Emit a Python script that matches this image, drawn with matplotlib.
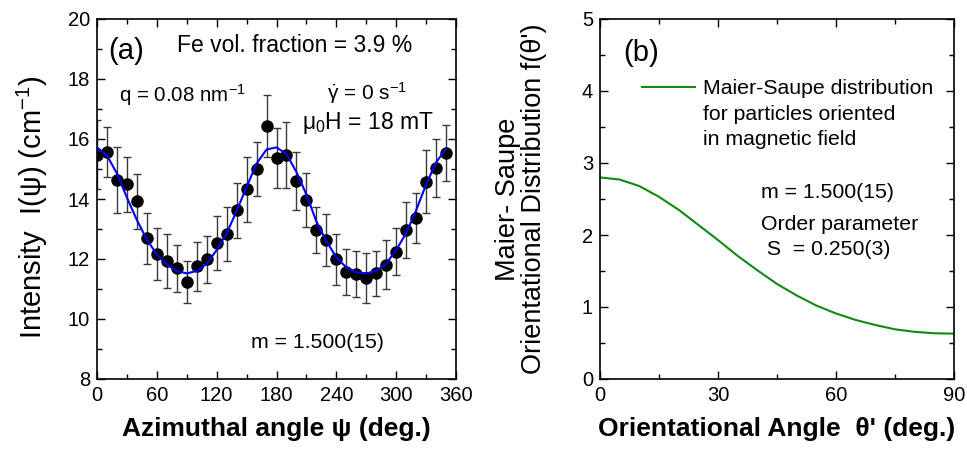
import matplotlib
matplotlib.use("Agg")
import matplotlib.pyplot as plt
from matplotlib.ticker import MultipleLocator

plt.rcParams['font.family'] = ['Liberation Sans', 'DejaVu Sans']
plt.rcParams['mathtext.fontset'] = 'custom'
plt.rcParams['mathtext.rm'] = 'Liberation Sans'
plt.rcParams['mathtext.it'] = 'Liberation Sans'
plt.rcParams['mathtext.bf'] = 'Liberation Sans:bold'

# ---------------- data panel (a) ----------------
psi = [0, 10, 20, 30, 40, 50, 60, 70, 80, 90, 100, 110, 120, 130, 140, 150, 160, 170,
       180, 190, 200, 210, 220, 230, 240, 250, 260, 270, 280, 290, 300, 310, 320, 330, 340, 350]
intensity = [15.47, 15.58, 14.63, 14.49, 13.93, 12.69, 12.16, 11.93, 11.69, 11.22, 11.76, 11.99,
             12.54, 12.82, 13.63, 14.32, 15.00, 16.43, 15.36, 15.47, 14.60, 13.97, 12.97, 12.63,
             12.00, 11.56, 11.50, 11.37, 11.53, 11.81, 12.24, 12.97, 13.37, 14.58, 15.04, 15.54]
errors = [1.15, 0.83, 1.10, 0.92, 0.92, 0.86, 0.86, 0.90, 0.78, 0.70, 0.82, 0.79,
          0.90, 0.90, 0.92, 1.07, 0.90, 1.03, 1.00, 1.10, 0.97, 0.90, 0.78, 0.86,
          0.85, 0.76, 0.78, 0.83, 0.75, 0.82, 0.78, 0.94, 0.84, 1.04, 0.96, 0.93]
fit_intensity = [15.72, 15.45, 14.85, 14.05, 13.30, 12.65, 12.15, 11.82, 11.60, 11.52, 11.60, 11.84,
                 12.30, 12.85, 13.60, 14.40, 15.18, 15.65, 15.72, 15.50, 14.90, 14.15, 13.25, 12.60,
                 12.05, 11.72, 11.55, 11.52, 11.60, 11.85, 12.30, 12.86, 13.62, 14.48, 15.22, 15.67]

# ---------------- data panel (b) ----------------
theta = [0, 5, 10, 15, 20, 25, 30, 35, 40, 45, 50, 55, 60, 65, 70, 75, 80, 85, 90]
f_theta = [2.80, 2.77, 2.68, 2.53, 2.35, 2.14, 1.93, 1.71, 1.51, 1.32, 1.16, 1.02,
           0.91, 0.82, 0.75, 0.69, 0.655, 0.635, 0.63]

fig = plt.figure(figsize=(9.67, 4.53), dpi=100)
W, H = 967.0, 453.0
axA = fig.add_axes([97 / W, 1 - 379 / H, (456 - 97) / W, 360 / H])
axB = fig.add_axes([600 / W, 1 - 379 / H, (954 - 600) / W, 360 / H])

tick_fs = 14.5
for ax in (axA, axB):
    ax.tick_params(which='both', direction='in', top=True, right=True, labelsize=tick_fs,
                   width=1.0, pad=5)
    ax.tick_params(which='major', length=6)
    ax.tick_params(which='minor', length=3.5)
    for s in ax.spines.values():
        s.set_linewidth(1.2)

# panel (a)
axA.errorbar(psi, intensity, yerr=errors, fmt='none', ecolor='#3a3a3a', elinewidth=1.0,
             capsize=3, capthick=1.0, zorder=2)
axA.plot(psi, intensity, 'o', color='black', markersize=8, zorder=3)
axA.plot(psi, fit_intensity, '-', color='#0000ee', lw=1.5, zorder=4)
axA.set_xlim(0, 360)
axA.set_ylim(8, 20)
axA.xaxis.set_major_locator(MultipleLocator(60))
axA.xaxis.set_minor_locator(MultipleLocator(30))
axA.yaxis.set_major_locator(MultipleLocator(2))
axA.yaxis.set_minor_locator(MultipleLocator(1))
axA.set_xlabel('Azimuthal angle ψ (deg.)', fontsize=19, fontweight='bold')
axA.xaxis.set_label_coords(0.5, -0.105)
axA.set_ylabel('Intensity  I(ψ) (cm$^{-1}$)', fontsize=21)
axA.yaxis.set_label_coords(-0.13, 0.478)

axA.text(0.03, 0.91, '(a)', transform=axA.transAxes, fontsize=21, va='center', ha='left')
axA.text(0.222, 0.925, 'Fe vol. fraction = 3.9 %', transform=axA.transAxes, fontsize=16.5,
         va='center', ha='left')
axA.text(0.061, 0.79, 'q = 0.08 nm$^{-1}$', transform=axA.transAxes, fontsize=14.8,
         va='center', ha='left')
axA.text(0.64, 0.795, r'$\dot{\gamma}$ = 0 s$^{-1}$', transform=axA.transAxes, fontsize=15,
         va='center', ha='left')
axA.text(0.571, 0.712, 'μ$_0$H = 18 mT', transform=axA.transAxes, fontsize=16.5,
         va='center', ha='left')
axA.text(0.429, 0.10, 'm = 1.500(15)', transform=axA.transAxes, fontsize=15.3,
         va='center', ha='left')

# panel (b)
axB.plot(theta, f_theta, '-', color='#108a10', lw=1.5)
axB.set_xlim(0, 90)
axB.set_ylim(0, 5)
axB.xaxis.set_major_locator(MultipleLocator(30))
axB.xaxis.set_minor_locator(MultipleLocator(15))
axB.yaxis.set_major_locator(MultipleLocator(1))
axB.yaxis.set_minor_locator(MultipleLocator(0.5))
axB.set_xlabel("Orientational Angle  θ' (deg.)", fontsize=19, fontweight='bold')
axB.xaxis.set_label_coords(0.5, -0.105)
axB.set_ylabel("Maier- Saupe\nOrientational Distribution f(θ')", fontsize=19.5,
               linespacing=1.0)
axB.yaxis.set_label_coords(-0.15, 0.5)

axB.text(0.065, 0.906, '(b)', transform=axB.transAxes, fontsize=21, va='center', ha='left')
axB.plot([0.119, 0.268], [0.812, 0.812], transform=axB.transAxes, color='#108a10', lw=1.5)
axB.text(0.291, 0.808, 'Maier-Saupe distribution', transform=axB.transAxes, fontsize=15.3,
         va='center', ha='left')
axB.text(0.291, 0.735, 'for particles oriented', transform=axB.transAxes, fontsize=15.3,
         va='center', ha='left')
axB.text(0.291, 0.664, 'in magnetic field', transform=axB.transAxes, fontsize=15.3,
         va='center', ha='left')
axB.text(0.455, 0.519, 'm = 1.500(15)', transform=axB.transAxes, fontsize=15.3,
         va='center', ha='left')
axB.text(0.455, 0.428, 'Order parameter', transform=axB.transAxes, fontsize=15.3,
         va='center', ha='left')
axB.text(0.455, 0.361, ' S  = 0.250(3)', transform=axB.transAxes, fontsize=15.3,
         va='center', ha='left')

fig.savefig('out.png', dpi=100)
